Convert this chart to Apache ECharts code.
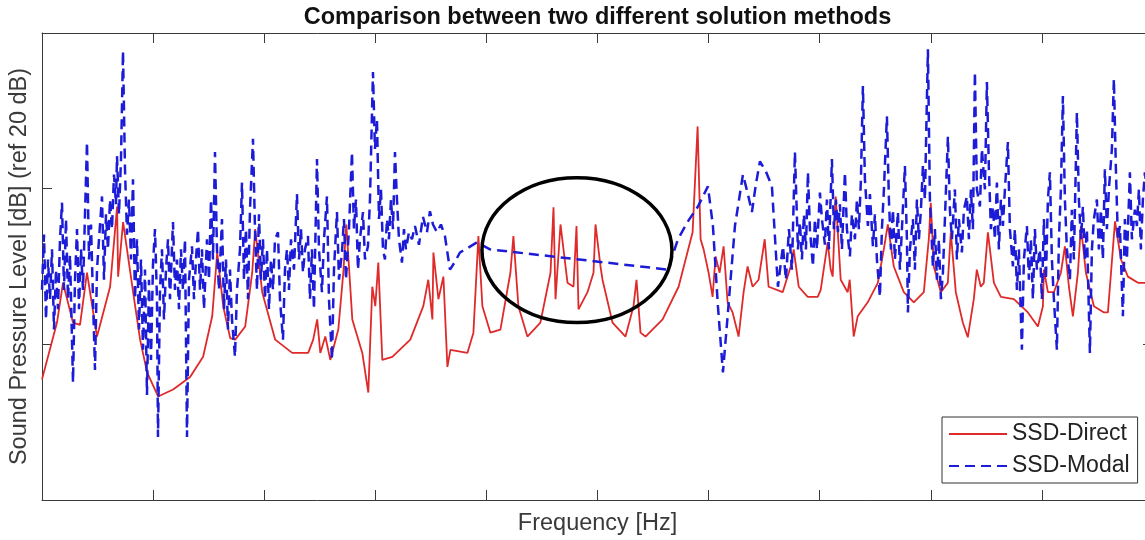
<!DOCTYPE html>
<html><head><meta charset="utf-8">
<script src="https://cdn.jsdelivr.net/npm/echarts@6/dist/echarts.min.js"></script>
<style>html,body{margin:0;padding:0;background:#fff}#c{width:1145px;height:540px}</style>
</head><body><div id="c"></div>
<script>
// ---- data (Hz, dB) ----
const seriesNames = ['SSD-Direct', 'SSD-Modal'];

const directFreq = [0,13.5,18.9,27.9,34.2,40.5,49.5,61.3,67.6,68.5,
73.0,82.0,88.3,94.6,104.5,118.0,133.3,145.0,153.2,157.7,
163.1,169.4,173.9,182.9,189.2,191.9,198.2,209.9,225.2,239.6,
244.1,247.7,250.5,255.0,259.5,266.7,271.2,273.9,279.3,288.3,
293.7,297.3,300.0,302.7,306.3,315.3,331.5,343.2,347.7,351.4,
352.3,356.8,361.3,364.9,367.6,382.9,388.3,392.8,396.4,403.6,
412.6,421.6,424.3,428.8,436.9,448.6,457.7,460.4,462.2,466.7,
473.0,478.4,481.1,482.9,491.0,496.4,498.2,502.7,504.5,513.5,
525.2,532.4,535.1,538.7,543.2,558.6,573.0,585.6,590.1,592.8,
595.5,600.0,603.6,606.3,609.9,613.5,617.1,621.6,627.0,631.5,
635.1,639.6,645.0,650.5,654.0,666.7,673.9,676.6,681.1,689.2,
698.2,700.9,707.2,709.9,711.7,714.4,718.9,725.2,727.0,730.6,
734.2,743.2,752.3,757.7,761.3,766.7,775.7,784.7,793.7,798.2,
800.0,802.7,809.0,815.3,818.0,822.5,828.8,833.3,838.7,841.4,
845.0,847.7,851.4,856.8,863.1,874.8,887.4,896.4,900.9,901.8,
905.4,910.8,917.1,920.7,924.3,927.9,932.4,935.1,939.6,946.8,
955.9,959.4,962.2,965.8,971.2,977.4,986.5,993.7,1000];

const directLevel = [15.5,22.8,27.9,22.8,22.5,29.2,21.0,27.4,37.7,28.7,
35.7,26.7,20.6,16.4,13.3,14.2,15.8,18.4,23.6,31.8,
24.9,20.8,20.6,22.3,29.2,34.8,26.7,20.6,18.9,18.9,
20.6,23.2,18.9,21.0,18.0,21.9,29.2,35.4,23.2,18.9,
13.8,27.4,24.9,30.5,18.0,18.4,20.6,24.9,28.3,23.2,
31.8,25.8,28.7,17.1,19.3,18.9,21.5,33.9,24.9,21.5,
21.9,29.2,33.9,24.9,21.0,22.8,29.2,37.6,25.8,35.4,
27.9,27.4,35.2,24.5,26.7,29.2,35.4,30.0,28.3,22.8,
21.0,24.9,28.3,21.5,21.0,23.2,27.4,34.4,48.0,33.5,
32.2,29.2,26.1,31.3,29.2,32.6,25.4,24.1,21.0,26.7,
30.0,27.4,28.3,33.5,27.4,26.7,30.0,32.2,27.4,26.1,
26.1,27.0,33.1,29.6,28.7,39.0,28.3,26.7,28.3,21.0,
23.6,25.4,27.9,32.2,35.4,30.0,26.7,25.4,26.7,33.5,
38.2,30.0,26.7,27.9,34.4,26.7,22.8,20.9,25.8,29.6,
27.4,27.9,34.4,27.9,26.1,25.8,24.1,22.3,24.9,29.6,
26.7,26.7,29.2,32.6,27.4,23.6,29.2,35.2,29.2,24.9,
24.1,24.1,29.2,35.8,30.9,28.7,27.9,27.9,28.0];

const modalFreq = [0,1.8,3.6,5.4,7.2,9.0,10.8,12.6,14.4,16.2,
18.0,19.8,21.6,23.4,25.2,27.9,29.7,31.5,33.3,35.1,
36.9,38.7,40.5,42.3,44.1,45.9,47.7,49.5,51.3,54.0,
55.8,57.6,59.4,61.2,63.0,64.8,66.6,67.5,69.3,71.1,
72.9,74.7,76.5,78.3,80.1,81.9,83.7,85.5,87.3,89.1,
90.9,92.7,94.5,96.3,98.1,99.9,101.7,103.5,104.4,106.2,
108.0,109.8,111.6,113.4,115.2,117.9,119.7,121.5,123.3,125.1,
126.9,128.7,130.5,132.3,135.0,136.8,138.6,140.4,142.2,144.0,
145.8,148.5,150.3,152.1,153.9,155.7,157.5,159.3,162.0,163.8,
165.6,167.4,169.2,171.0,173.7,175.5,178.2,180.0,181.8,183.6,
185.4,187.2,189.9,191.7,193.5,195.3,197.1,198.9,200.7,202.5,
204.3,206.1,207.9,209.7,212.4,214.2,216.9,218.7,220.5,222.3,
224.1,226.8,229.5,231.3,233.1,234.9,236.7,239.4,241.2,243.0,
244.8,247.5,249.3,252.0,253.8,256.5,258.3,261.0,262.8,265.5,
267.3,270.0,271.8,273.6,276.3,279.0,280.8,282.6,284.4,286.2,
288.9,290.7,293.4,295.2,297.9,299.7,301.5,303.3,305.1,306.9,
308.7,310.5,312.3,314.1,315.9,317.7,319.5,321.3,324.0,325.8,
327.6,330.3,333.0,335.7,339.3,342.9,346.5,349.2,351.9,355.5,
359.1,362.7,367.2,371.7,376.2,383.4,391.5,403.2,563.4,572.4,
581.4,590.4,599.4,603.9,608.4,612.9,617.4,623.7,630.9,635.4,
639.0,642.6,646.2,651.6,657.0,662.4,666.9,669.6,672.3,675.0,
677.7,680.4,682.2,684.0,685.8,687.6,689.4,691.2,693.9,695.7,
697.5,700.2,702.0,704.7,706.5,708.3,711.0,712.8,714.6,716.4,
718.2,720.0,722.7,724.5,727.2,729.0,731.7,733.5,735.3,737.1,
738.9,740.7,743.4,745.2,747.9,749.7,751.5,754.2,756.0,757.8,
760.5,762.3,764.1,765.9,767.7,770.4,772.2,774.0,776.7,778.5,
779.4,781.2,783.9,785.7,787.5,789.3,791.1,792.9,794.7,795.6,
797.4,799.2,801.9,803.7,805.5,807.3,809.1,810.9,812.7,815.4,
817.2,819.0,821.7,823.5,825.3,828.0,829.8,832.5,834.3,836.1,
837.9,839.7,841.5,844.2,846.0,848.7,850.5,852.3,854.1,855.9,
857.7,859.5,861.3,863.1,864.9,866.7,869.4,871.2,873.9,875.7,
877.5,879.3,882.0,883.8,886.5,888.3,890.1,891.9,893.7,895.5,
898.2,900.0,901.8,903.6,905.4,907.2,909.0,910.8,913.5,915.3,
917.1,918.9,920.7,922.5,925.2,927.0,928.8,931.5,933.3,935.1,
936.9,938.7,940.5,943.2,945.0,946.8,949.5,951.3,953.1,954.9,
956.7,958.5,960.3,963.0,964.8,966.6,968.4,970.2,972.9,974.7,
976.5,979.2,981.0,983.7,985.5,987.3,989.1,990.9,992.7,997.2];

const modalLevel = [27.0,34.1,23.2,30.9,25.8,32.2,21.9,29.6,24.5,33.5,
38.2,27.0,36.1,25.8,31.5,15.1,28.3,34.8,24.5,32.2,
27.0,36.7,46.0,30.9,35.4,25.8,16.7,29.6,33.5,39.0,
28.3,36.7,32.2,38.6,34.8,41.8,38.0,44.2,36.7,43.8,
57.7,42.5,34.1,38.6,30.9,41.2,25.8,33.5,21.9,30.9,
19.3,29.6,13.5,28.3,18.0,30.3,34.8,25.8,8.1,27.0,
32.2,23.2,29.6,33.5,25.8,35.7,27.0,30.9,24.5,32.2,
27.0,33.5,8.1,28.3,32.6,25.8,30.9,34.8,27.0,32.2,
24.5,33.5,28.3,38.6,30.9,44.7,32.2,27.0,36.1,24.5,
30.9,21.9,29.6,23.2,18.4,27.0,32.2,40.8,28.3,34.8,
25.8,37.3,46.4,34.8,27.0,36.7,28.3,33.5,25.8,32.2,
24.5,30.9,27.0,33.5,34.4,25.8,20.6,29.6,32.2,27.0,
33.5,29.6,39.3,30.9,34.8,29.2,32.2,33.9,25.8,32.2,
24.5,43.8,32.2,26.7,33.5,39.0,25.8,18.0,29.6,37.0,
28.3,31.8,36.1,28.3,34.8,44.7,34.8,38.6,29.6,33.5,
37.0,30.9,32.6,38.6,55.0,45.1,48.9,36.1,39.9,32.2,
30.9,36.1,33.5,38.6,34.8,44.7,38.6,33.5,30.5,34.8,
32.2,34.4,33.5,35.2,32.8,36.4,34.4,37.1,35.4,34.4,
35.4,33.9,29.6,30.6,31.8,32.4,33.1,32.2,29.6,33.5,
35.8,37.7,40.3,35.2,24.9,16.4,24.1,35.2,41.8,39.3,
37.0,40.6,43.5,42.2,40.3,27.4,32.6,28.3,34.8,29.6,
44.7,32.2,35.7,30.9,36.7,32.2,42.1,34.8,30.0,36.1,
32.2,39.5,36.1,32.8,38.6,32.2,43.8,34.8,38.6,34.4,
38.0,32.2,42.1,34.8,31.3,36.7,33.5,38.6,34.8,41.2,
53.2,41.2,35.2,39.3,32.6,36.7,30.9,26.1,34.8,39.9,
49.3,38.6,32.2,37.3,30.9,37.0,29.6,34.8,42.9,33.5,
24.1,32.2,36.1,29.6,38.6,33.5,37.3,42.9,38.6,45.1,
57.9,38.6,30.0,34.8,28.3,33.5,25.8,29.2,36.1,46.7,
37.3,33.5,39.9,30.9,36.1,31.8,37.3,39.0,33.5,39.9,
34.8,55.0,39.9,37.7,45.1,39.9,53.7,42.5,34.8,37.7,
33.5,40.8,32.2,38.6,35.2,39.9,46.0,34.8,30.0,34.8,
27.0,32.2,19.3,30.9,35.2,28.3,33.5,25.8,34.8,29.6,
32.2,25.8,36.1,28.3,38.6,42.1,30.9,25.8,19.3,33.5,
39.9,51.9,38.6,32.2,28.3,37.3,30.9,49.8,38.6,33.5,
37.7,30.9,34.8,18.9,32.2,36.1,38.6,32.2,37.3,30.9,
42.5,34.8,39.9,45.1,54.1,42.5,33.5,35.2,23.6,36.1,
30.9,42.1,33.5,37.3,35.2,39.9,32.2,38.6,42.1,36.1];

// highlighted region (ellipse annotation), in data units
const highlightCenter = [481.5, 32.1];
const highlightHalfSize = [85.5, 9.3];

// ---- chart ----
function zip(a, b) { return a.map(function (v, i) { return [v, b[i]]; }); }
const FONT = 'Liberation Sans, Arial, Helvetica, sans-serif';
const AX = '#3a3a3a';
const RED = '#e02a2a';
const BLUE = '#1c1cd8';

const chart = echarts.init(document.getElementById('c'), null, { renderer: 'canvas' });

function axisBase(extra) {
  return Object.assign({
    type: 'value',
    axisLine: { show: true, onZero: false, lineStyle: { color: AX, width: 1 } },
    axisTick: { show: true, inside: true, length: 10, lineStyle: { color: AX, width: 1 } },
    axisLabel: { show: false },
    splitLine: { show: false }
  }, extra);
}

chart.setOption({
  animation: false,
  backgroundColor: '#ffffff',
  title: {
    text: 'Comparison between two different solution methods',
    left: 597.5, top: 0, textAlign: 'center',
    padding: [6, 0, 5, 0],
    textStyle: { fontFamily: FONT, fontSize: 23.5, fontWeight: 'bold', color: '#111' }
  },
  grid: { left: 42, right: -8, top: 33, bottom: 40, containLabel: false, outerBoundsMode: 'none' },
  xAxis: [
    axisBase({ position: 'bottom', min: 0, max: 1000, interval: 100,
      name: 'Frequency [Hz]', nameLocation: 'middle', nameGap: 12,
      nameTextStyle: { fontFamily: FONT, fontSize: 23.5, color: '#3a3a3a', verticalAlign: 'top' } }),
    axisBase({ position: 'top', min: 0, max: 1000, interval: 100 })
  ],
  yAxis: [
    axisBase({ position: 'left', min: 0, max: 60, interval: 20,
      name: 'Sound Pressure Level [dB] (ref 20 dB)', nameLocation: 'middle', nameGap: 10,
      nameTextStyle: { fontFamily: FONT, fontSize: 23.5, color: '#3a3a3a' } }),
    axisBase({ position: 'right', min: 0, max: 60, interval: 20 })
  ],
  legend: {
    data: seriesNames,
    orient: 'vertical',
    left: 942, top: 417,
    itemWidth: 58, itemHeight: 14, itemGap: 6,
    padding: [4, 8, 4, 6],
    borderColor: '#333', borderWidth: 1, borderRadius: 0,
    backgroundColor: '#ffffff',
    itemStyle: { opacity: 0 },
    textStyle: { fontFamily: FONT, fontSize: 23, color: '#222', lineHeight: 26 }
  },
  series: [
    { name: seriesNames[0], type: 'line', data: zip(directFreq, directLevel),
      symbol: 'none', showSymbol: false, z: 2,
      lineStyle: { color: RED, width: 1.8 }, itemStyle: { color: RED } },
    { name: seriesNames[1], type: 'line', data: zip(modalFreq, modalLevel),
      symbol: 'none', showSymbol: false, z: 3,
      lineStyle: { color: BLUE, width: 2.5, type: [10, 6] }, itemStyle: { color: BLUE } }
  ]
});

const pc = chart.convertToPixel({ gridIndex: 0 }, highlightCenter);
const pe = chart.convertToPixel({ gridIndex: 0 }, [highlightCenter[0] + highlightHalfSize[0], highlightCenter[1] + highlightHalfSize[1]]);
chart.setOption({
  graphic: [{
    type: 'ellipse', z: 100,
    shape: { cx: pc[0], cy: pc[1], rx: Math.abs(pe[0] - pc[0]), ry: Math.abs(pc[1] - pe[1]) },
    style: { fill: 'none', stroke: '#000', lineWidth: 3.5 }
  }]
});
</script>
</body></html>
